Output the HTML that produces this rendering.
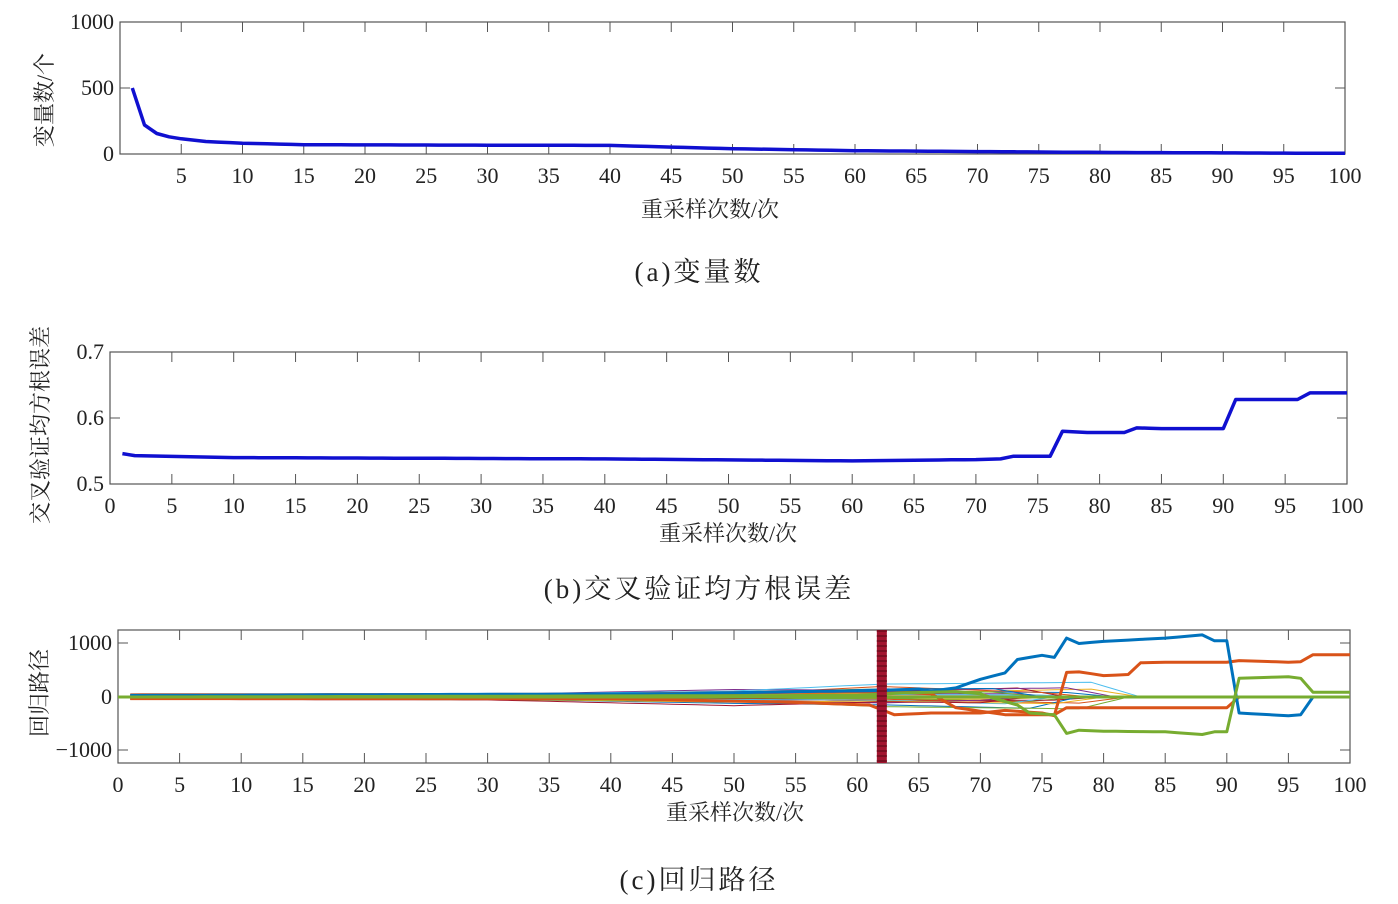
<!DOCTYPE html>
<html><head><meta charset="utf-8"><style>
body{margin:0;background:#fff;width:1398px;height:899px;overflow:hidden}
svg text{font-family:"Liberation Serif","Noto Serif CJK SC",serif;fill:#222}
</style></head><body>
<svg id="s" width="1398" height="899" xmlns="http://www.w3.org/2000/svg"></svg>
<script>
const S=document.getElementById('s');let h='';
function T(x,y,t,sz,anc,extra){h+=`<text x="${x}" y="${y}" font-size="${sz}" text-anchor="${anc||'middle'}" ${extra||''}>${t}</text>`;}
function axes(x0,x1,y0,y1,yt,xt){
  h+=`<rect x="${x0}" y="${y0}" width="${x1-x0}" height="${y1-y0}" fill="none" stroke="#555" stroke-width="1.2"/>`;
  for(let v=5;v<100;v+=5){const x=x0+(x1-x0)*v/100;h+=`<line x1="${x}" y1="${y0}" x2="${x}" y2="${y0+10}" stroke="#555"/><line x1="${x}" y1="${y1}" x2="${x}" y2="${y1-10}" stroke="#555"/>`;}
  for(const [y,l] of yt){h+=`<line x1="${x0}" y1="${y}" x2="${x0+10}" y2="${y}" stroke="#555"/><line x1="${x1}" y1="${y}" x2="${x1-10}" y2="${y}" stroke="#555"/>`;T(x0-6,y+7,l,22,'end');}
  for(let v=(xt?0:5);v<=100;v+=5){T(x0+(x1-x0)*v/100,y1+29,v,22);}
}
function interp(pts){const r=[];for(let i=1;i<=100;i++){let j=0;while(j<pts.length-1&&pts[j+1][0]<i)j++;const a=pts[j],b=pts[Math.min(j+1,pts.length-1)];let v=a[1];if(b[0]!=a[0]&&i>=a[0])v=a[1]+(b[1]-a[1])*(Math.min(i,b[0])-a[0])/(b[0]-a[0]);if(i<pts[0][0])v=pts[0][1];r.push([i,v]);}return r;}
function line(pts,fx,fy,c,w){h+=`<polyline fill="none" stroke="${c}" stroke-width="${w}" stroke-linejoin="round" points="${pts.map(p=>fx(p[0]).toFixed(1)+','+fy(p[1]).toFixed(1)).join(' ')}"/>`;}
{const x0=120,x1=1345,y0=22,y1=154;axes(x0,x1,y0,y1,[[22,'1000'],[88,'500'],[154,'0']],false);
const fx=v=>x0+(x1-x0)*v/100,fy=v=>y1-(y1-y0)*v/1000;
line(interp([[1,500],[2,220],[3,155],[4,130],[5,115],[6,105],[7,95],[8,90],[10,82],[15,70],[40,65],[50,40],[60,25],[80,12],[100,5]]),fx,fy,'#1010d0',3.5);
T(52,100,'变量数/个',22,'middle','transform="rotate(-90 52 100)"');
T(710,217,'重采样次数/次',22);T(699,281,'(a)变量数',27,'middle','letter-spacing="3"');}
{const x0=110,x1=1347,y0=352,y1=484;axes(x0,x1,y0,y1,[[352,'0.7'],[418,'0.6'],[484,'0.5']],true);
const fx=v=>x0+(x1-x0)*v/100,fy=v=>y1-(y1-y0)*(v-0.5)/0.2;
const d=[[1,0.546],[2,0.543],[10,0.540],[40,0.538],[60,0.535],[70,0.537],[72,0.538],[73,0.542],[76,0.542],[77,0.580],[79,0.578],[82,0.578],[83,0.585],[85,0.584],[90,0.584],[91,0.628],[96,0.628],[97,0.638],[100,0.638]];
line(interp(d),fx,fy,'#1010d0',3.5);
T(48,425,'交叉验证均方根误差',22,'middle','transform="rotate(-90 48 425)"');
T(728,541,'重采样次数/次',22);T(699,598,'(b)交叉验证均方根误差',27,'middle','letter-spacing="3"');}
{const x0=118,x1=1350,y0=630,y1=763;axes(x0,x1,y0,y1,[[643,'1000'],[697,'0'],[750,'−1000']],true);
const fx=v=>x0+(x1-x0)*v/100,fy=v=>697-v*0.0535;
const thin=['#0072bd','#d95319','#edb120','#7e2f8e','#77ac30','#4dbeee','#a2142f'];
for(let k=0;k<22;k++){const c=thin[k%7];const a=(k%2?1:-1)*(10+k*4);const pts=[[1,a*0.5],[30,a*0.6],[50,a*(0.8+(k%3)*0.5)],[62,a*(1+(k%4)*0.6)],[70+(k%10),a*(1.2+(k%5)*0.5)],[72+(k%10)+2,0],[100,0]];line(interp(pts),fx,fy,c,1);}
line(interp([[1,40],[40,50],[50,80],[62,100],[66,60],[68,-200],[72,-330],[76,-330],[77,-200],[90,-200],[91,0],[100,0]]),fx,fy,'#d95319',3);
line(interp([[1,-30],[40,-30],[55,-100],[61,-150],[63,-330],[66,-300],[70,-300],[72,-250],[75,-300],[76,-350],[77,460],[78,470],[80,400],[82,420],[83,640],[85,650],[90,650],[91,680],[95,650],[96,660],[97,790],[100,790]]),fx,fy,'#d95319',3);
line(interp([[1,30],[45,60],[55,100],[62,120],[65,150],[66,110],[68,170],[70,330],[72,450],[73,700],[75,780],[76,740],[77,1100],[78,1000],[80,1040],[85,1100],[88,1160],[89,1050],[90,1050],[91,-300],[95,-350],[96,-330],[97,0],[100,0]]),fx,fy,'#0072bd',3);
line(interp([[1,0],[60,30],[64,80],[66,90],[68,100],[70,60],[71,-20],[73,-150],[74,-300],[76,-330],[77,-680],[78,-620],[80,-640],[85,-650],[88,-700],[89,-650],[90,-650],[91,350],[95,380],[96,350],[97,90],[100,90]]),fx,fy,'#77ac30',3);
line([[0,0],[100,0]],fx,fy,'#77ac30',3);
h+=`<line x1="${fx(62)}" y1="${y0}" x2="${fx(62)}" y2="${y1}" stroke="#a2142f" stroke-width="10"/>`;
h+=`<line x1="${fx(62)}" y1="${y0}" x2="${fx(62)}" y2="${y1}" stroke="#7a0f22" stroke-width="10" stroke-dasharray="2 3"/>`;
T(47,693,'回归路径',22,'middle','transform="rotate(-90 47 693)"');
T(735,820,'重采样次数/次',22);T(699,889,'(c)回归路径',27,'middle','letter-spacing="3"');}
S.innerHTML=h;
</script>
</body></html>
